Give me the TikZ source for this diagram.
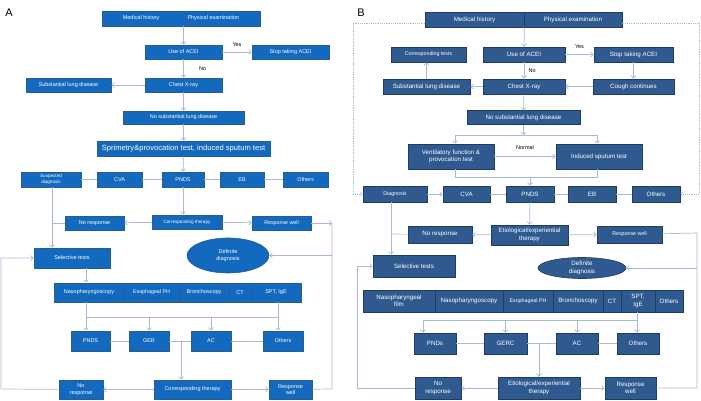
\documentclass[tikz,border=0pt]{standalone}
\usepackage{fontspec}
\setmainfont{Liberation Sans}
\usetikzlibrary{arrows.meta,shapes.geometric}
\newcommand{\fsz}[2]{\fontsize{#1}{#2}\selectfont}
\definecolor{afill}{HTML}{1269BE}
\definecolor{aline}{HTML}{2A5C94}
\definecolor{bfill}{HTML}{2F5A8F}
\definecolor{bline}{HTML}{1E3D66}
\definecolor{conn}{HTML}{A6BAD8}
\begin{document}
\begin{tikzpicture}[x=1pt, y=-1pt,
	>={Straight Barb[length=2.5pt,width=5pt]},
	abox/.style={draw=aline, fill=afill, text=white, inner sep=0pt, align=center, line width=0.6pt, font=\fsz{5.5}{6.6}},
	bbox/.style={draw=bline, fill=bfill, text=white, inner sep=0pt, align=center, line width=0.6pt, font=\fsz{6.2}{7.4}},
	sz/.style 2 args={minimum width=#1pt, minimum height=#2pt},
	small/.style={font=\fsz{4.6}{5.6}},
	mid/.style={font=\fsz{5.3}{6.4}},
	line/.style={draw=conn, line width=0.7pt},
	arr/.style={line, ->},
	dline/.style={draw=conn, line width=0.6pt, dash pattern=on 1.2pt off 1pt},
	lbl/.style={font=\fsz{5.5}{6.6}}]
	\useasboundingbox (0,0) rectangle (701,401);
	%\draw[help lines] (0,0) grid[step=50] (701,401);
	\node[font=\fsz{11}{13}] (alab) at (9,13) {A};
	\node[font=\fsz{11}{13}] (blab) at (361,13) {B};
	% A
	\node[abox, sz={158}{15}] (atop) at (181,18.5) {Medical history\hspace{28pt}Physical examination};
	\node[abox, sz={77}{14}] (ause) at (183.5,52) {Use of ACEI};
	\node[abox, sz={77}{14}] (astop) at (290.5,52) {Stop taking ACEI};
	\node[abox, sz={77}{14}] (achest) at (183.5,85) {Chest X-ray};
	\node[abox, sz={85}{14}] (asub) at (68.5,85) {Substantial lung disease};
	\node[abox, sz={121}{13}] (anosub) at (183.5,117.5) {No substantial lung disease};
	\node[abox, sz={173}{15}, font=\fsz{7.6}{9}] (aspt) at (183.5,148.5) {Sprimetry\&provocation test, induced sputum test};
	\node[abox, sz={60}{15}, small] (asusp) at (51,179.5) {Suspected\\diagnosis};
	\node[abox, sz={45}{15}] (acva) at (119.5,179.5) {CVA};
	\node[abox, sz={42}{15}] (apnds) at (183,179.5) {PNDS};
	\node[abox, sz={44}{15}] (aeb) at (242,179.5) {EB};
	\node[abox, sz={45}{15}] (aoth) at (305.5,179.5) {Others};
	\node[abox, sz={70}{14}, small] (acorr) at (187,222) {Corresponding therapy};
	\node[abox, sz={59}{14}] (anores) at (94.5,223) {No response};
	\node[abox, sz={59}{14}, mid] (awell) at (281.5,223) {Response well};
	\node[abox, sz={76}{20}] (asel) at (72,258) {Selective tests};
	\node[abox, ellipse, sz={82}{35}] (adef) at (228,255.5) {Definite\\diagnosis};
	\node[abox, sz={70}{19}] (anaso) at (89,292.5) {Nasopharyngoscopy};
	\node[abox, sz={55}{19}, mid] (aeso) at (151.5,292.5) {Esophageal PH};
	\node[abox, sz={50}{19}] (abron) at (204,292.5) {Bronchoscopy};
	\node[abox, sz={22}{19}] (act) at (240,292.5) {CT};
	\node[abox, sz={50}{19}] (aige) at (276,292.5) {SPT, IgE};
	\node[abox, sz={39}{20}] (apnds2) at (90.5,341) {PNDS};
	\node[abox, sz={40}{20}] (ager) at (149,341) {GER};
	\node[abox, sz={40}{20}] (aac) at (211,341) {AC};
	\node[abox, sz={40}{20}] (aoth2) at (283,341) {Others};
	\node[abox, sz={44}{19}] (anores2) at (81,389.5) {No\\response};
	\node[abox, sz={77}{19}] (acorr2) at (192.5,389.5) {Corresponding therapy};
	\node[abox, sz={43}{19}] (awell2) at (290.5,389.5) {Response\\well};
	\coordinate (ar) at (332,223);
	\coordinate (arb) at (332,389);
	\coordinate (al) at (1,389);
	\coordinate (ab1) at (86,317);
	\coordinate (ab2) at (278,317);
	\coordinate (am) at (181,341);
	\draw[arr] (atop.south -| ause) -- (ause);
	\draw[arr] (ause) -- node[above, lbl, yshift=2pt] {Yes} (astop);
	\draw[arr] (ause) -- node[right, lbl, xshift=12pt] {No} (achest);
	\draw[arr] (achest) -- (asub);
	\draw[arr] (achest) -- (anosub);
	\draw[arr] (anosub) -- (aspt);
	\draw[arr] (aspt) -- (apnds);
	\draw[line] (asusp) -- (acva) -- (apnds) -- (aeb) -- (aoth);
	\draw[arr] (apnds) -- (apnds |- acorr.north);
	\draw[arr] (acorr) -- (anores);
	\draw[arr] (acorr) -- (awell);
	\draw[arr] (asusp.south -| 52,0) -- (52,0 |- asel.north);
	\draw[line] (anores) -- (52,223);
	\draw[arr] (awell) -- (ar);
	\draw[line] (ar) -- (arb) -- (awell2);
	\draw[arr] (ar |- adef) -- (adef);
	\draw[arr] (anores2) -- (al) -- (al |- asel) -- (asel);
	\draw[arr] (asel.south -| ab1) -- (ab1 |- anaso.north);
	\draw[arr] (ab1 |- anaso.south) -- (ab1 |- apnds2.north);
	\draw[line] (ab1) -- (ab2);
	\draw[arr] (ab2 |- aige.south) -- (ab2 |- aoth2.north);
	\draw[arr] (ab1 -| ager) -- (ager);
	\draw[arr] (ab1 -| aac) -- (aac);
	\draw[line] (apnds2) -- (ager) -- (aac) -- (aoth2);
	\draw[arr] (am) -- (am |- acorr2.north);
	\draw[arr] (acorr2) -- (anores2);
	\draw[arr] (acorr2) -- (awell2);
	% B
	\node[bbox, sz={99}{15}] (bmh) at (474.5,19.5) {Medical history};
	\node[bbox, sz={98}{15}] (bpe) at (573,19.5) {Physical examination};
	\node[bbox, sz={82}{15}] (buse) at (524,54.5) {Use of ACEI};
	\node[bbox, sz={79}{15}] (bstop) at (633.5,54.5) {Stop taking ACEI};
	\node[bbox, sz={75}{15}, mid] (bcorr) at (428.5,54.5) {Corresponding tests};
	\node[bbox, sz={82}{15}] (bchest) at (524,86.5) {Chest X-ray};
	\node[bbox, sz={81}{15}] (bcough) at (633.5,86.5) {Cough continues};
	\node[bbox, sz={87}{15}] (bsub) at (426.5,86.5) {Substantial lung disease};
	\node[bbox, sz={113}{14}] (bnosub) at (523.5,117.5) {No substantial lung disease};
	\node[bbox, sz={86}{25}] (bvent) at (451,156.5) {Ventilatory function \&\\provocation test};
	\node[bbox, sz={86}{25}] (bind) at (599,156.5) {Induced sputum test};
	\node[bbox, sz={64}{16}, mid] (bdiag) at (395,194) {Diagnosis};
	\node[bbox, sz={47}{16}] (bcva) at (466.5,194) {CVA};
	\node[bbox, sz={48}{16}] (bpnds) at (530,194) {PNDS};
	\node[bbox, sz={48}{16}] (beb) at (592,194) {EB};
	\node[bbox, sz={48}{16}] (both) at (656,194) {Others};
	\node[bbox, sz={77}{20}] (bety) at (529.5,235) {Etiological/experiential\\therapy};
	\node[bbox, sz={64}{17}] (bnores) at (440,234.5) {No response};
	\node[bbox, sz={65}{17}, mid] (bwell) at (629.5,234.5) {Response well};
	\node[bbox, sz={82}{22}] (bsel) at (414,266) {Selective tests};
	\node[bbox, ellipse, sz={88}{21}] (bdef) at (582,268) {Definite\\diagnosis};
	\node[bbox, sz={72}{22}] (bnfilm) at (399,301) {Nasopharyngeal\\film};
	\node[bbox, sz={68}{22}] (bnaso) at (469,301) {Nasopharyngoscopy};
	\node[bbox, sz={50}{22}, mid] (beso) at (528,301) {Esophageal PH};
	\node[bbox, sz={50}{22}] (bbron) at (578,301) {Bronchoscopy};
	\node[bbox, sz={18}{22}] (bct) at (612,301) {CT};
	\node[bbox, sz={34}{22}] (bige) at (638,301) {SPT,\\IgE};
	\node[bbox, sz={28}{22}] (both3) at (669,301) {Others};
	\node[bbox, sz={42}{21}] (bpnds2) at (435,343.5) {PNDs};
	\node[bbox, sz={43}{21}] (bgerc) at (505.5,343.5) {GERC};
	\node[bbox, sz={42}{21}] (bac) at (577,343.5) {AC};
	\node[bbox, sz={42}{21}] (both2) at (638,343.5) {Others};
	\node[bbox, sz={46}{22}] (bnores2) at (438,388) {No\\response};
	\node[bbox, sz={82}{22}] (bety2) at (539,388) {Etiological/experiential\\therapy};
	\node[bbox, sz={51}{22}] (bwell2) at (630.5,388) {Response\\well};
	\coordinate (bd1) at (353,23);
	\coordinate (bd2) at (699.5,23);
	\coordinate (bs1) at (455,135);
	\coordinate (bs2) at (597,135);
	\coordinate (bs3) at (455,177);
	\coordinate (bs4) at (597,177);
	\coordinate (bs5) at (530,177);
	\coordinate (bl1) at (391,234);
	\coordinate (bl2) at (357,388);
	\coordinate (br1) at (697,233);
	\coordinate (br2) at (697,388);
	\coordinate (bt1) at (423,320);
	\coordinate (bt2) at (637,320);
	\coordinate (bm) at (539,343.5);
	\draw[dline, ->] (bmh.west |- bd1) -- (bd1) -- (bd1 |- bdiag) -- (bdiag);
	\draw[dline, ->] (bpe.east |- bd2) -- (bd2) -- (bd2 |- both) -- (both);
	\draw[arr] (bmh.south east) -- (buse);
	\draw[arr] (buse) -- node[above, lbl, yshift=2pt] {Yes} (bstop);
	\draw[arr] (buse) -- node[right, lbl, xshift=1pt] {No} (bchest);
	\draw[arr] (bstop) -- (bcough);
	\draw[arr] (bcough) -- (bchest);
	\draw[arr] (bchest) -- (bsub);
	\draw[arr] (bsub) -- (bsub |- bcorr.south);
	\draw[arr] (bchest) -- (bnosub);
	\draw[arr] (bnosub) -- (bnosub |- bs1);
	\draw[line] (bs1) -- (bs2);
	\draw[arr] (bs1) -- (bs1 |- bvent.north);
	\draw[arr] (bs2) -- (bs2 |- bind.north);
	\draw[arr] (bvent) -- node[above, lbl, yshift=3pt] {Normal} (bind);
	\draw[line] (bs3 |- bvent.south) -- (bs3) -- (bs4) -- (bs4 |- bind.south);
	\draw[arr] (bs5) -- (bpnds);
	\draw[arr] (bdiag) -- (bcva);
	\draw[line] (bcva) -- (bpnds) -- (beb) -- (both);
	\draw[arr] (bpnds) -- (bety);
	\draw[arr] (bety) -- (bnores);
	\draw[arr] (bety) -- (bwell);
	\draw[arr] (bdiag.south -| bl1) -- (bl1 |- bsel.north);
	\draw[line] (bnores) -- (bl1);
	\draw[line] (bwell) -- (br1) -- (br2) -- (bwell2);
	\draw[arr] (br1 |- bdef) -- (bdef);
	\draw[arr] (bnores2) -- (bl2) -- (bl2 |- bsel) -- (bsel);
	\draw[arr] (bt2 |- bige.south) -- (bt2 |- both2.north);
	\draw[line] (bt1) -- (bt2);
	\draw[arr] (bt1) -- (bt1 |- bpnds2.north);
	\draw[arr] (bt1 -| bgerc) -- (bgerc);
	\draw[arr] (bt1 -| bac) -- (bac);
	\draw[line] (bpnds2) -- (bgerc) -- (bac) -- (both2);
	\draw[arr] (bm) -- (bety2);
	\draw[arr] (bety2) -- (bnores2);
	\draw[arr] (bety2) -- (bwell2);
\end{tikzpicture}
\end{document}
